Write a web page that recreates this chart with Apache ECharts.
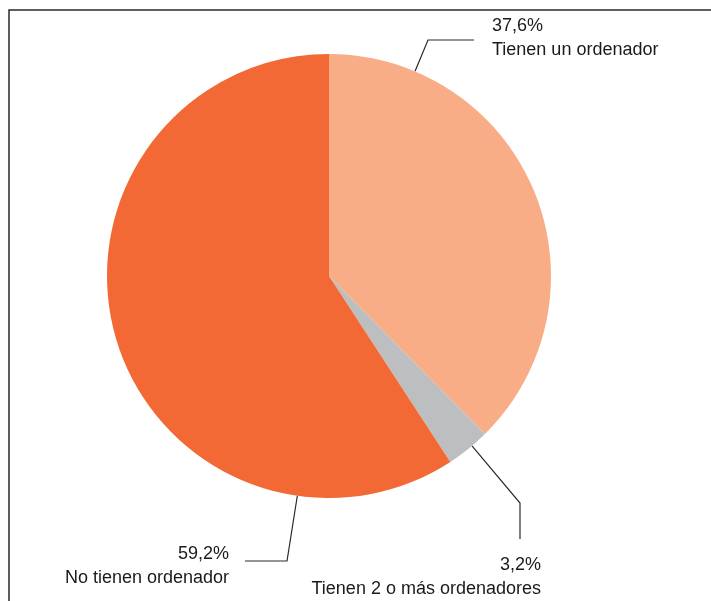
<!DOCTYPE html>
<html>
<head>
<meta charset="utf-8">
<script src="https://cdn.jsdelivr.net/npm/echarts@6/dist/echarts.min.js"></script>
<style>
  html, body { margin: 0; padding: 0; background: #fff; }
  #chart { width: 711px; height: 601px; }
</style>
</head>
<body>
<div id="chart"></div>
<script>
// Data
const categories = ['Tienen un ordenador', 'Tienen 2 o más ordenadores', 'No tienen ordenador'];
const values = [37.6, 3.2, 59.2];
const valueLabels = ['37,6%', '3,2%', '59,2%'];
const colors = ['#F9AD87', '#BDBEC0', '#F26935'];

// Layout (pixels)
const CX = 329, CY = 276, R = 222;
const FONT = '"Liberation Sans Narrow", "Arial Narrow", "Liberation Sans", sans-serif';
// per-label leader geometry: anchor angle (deg clockwise from top), elbow, end, label anchor
const leaders = [
  { ang: 22.8, elbow: [428, 40], end: [474, 40], lx: 492, ly: 14, align: 'left' },
  { ang: 139.9, elbow: [520, 503], end: [520, 539], lx: 541, ly: 553, align: 'right' },
  { ang: 188.2, elbow: [287, 561], end: [245, 561], lx: 229, ly: 542, align: 'right' }
];

const chart = echarts.init(document.getElementById('chart'));
chart.setOption({
  animation: false,
  graphic: [{
    type: 'polyline',
    shape: { points: [[9, 601], [9, 10], [711, 10]] },
    style: { stroke: '#2a2a2a', lineWidth: 1.5, fill: null },
    silent: true
  }],
  series: [{
    type: 'pie',
    center: [CX, CY],
    radius: R,
    startAngle: 90,
    clockwise: true,
    data: categories.map((c, i) => ({
      name: c, value: values[i],
      itemStyle: { color: colors[i] },
      label: { align: leaders[i].align }
    })),
    itemStyle: { borderWidth: 0 },
    emphasis: { disabled: true },
    label: {
      show: true,
      position: 'outside',
      overflow: 'none',
      width: 400,
      formatter: p => valueLabels[p.dataIndex] + '\n' + p.name,
      fontFamily: FONT,
      fontSize: 18,
      lineHeight: 24,
      color: '#1a1a1a'
    },
    labelLine: {
      show: true,
      lineStyle: { color: '#2a2a2a', width: 1.2 }
    },
    labelLayout: function (params) {
      const L = leaders[params.dataIndex];
      const a = L.ang * Math.PI / 180;
      const ax = CX + Math.sin(a) * R;
      const ay = CY - Math.cos(a) * R;
      return {
        x: L.lx, y: L.ly,
        align: L.align,
        verticalAlign: 'top',
        labelLinePoints: [[ax, ay], L.elbow, L.end]
      };
    }
  }]
});
</script>
</body>
</html>
